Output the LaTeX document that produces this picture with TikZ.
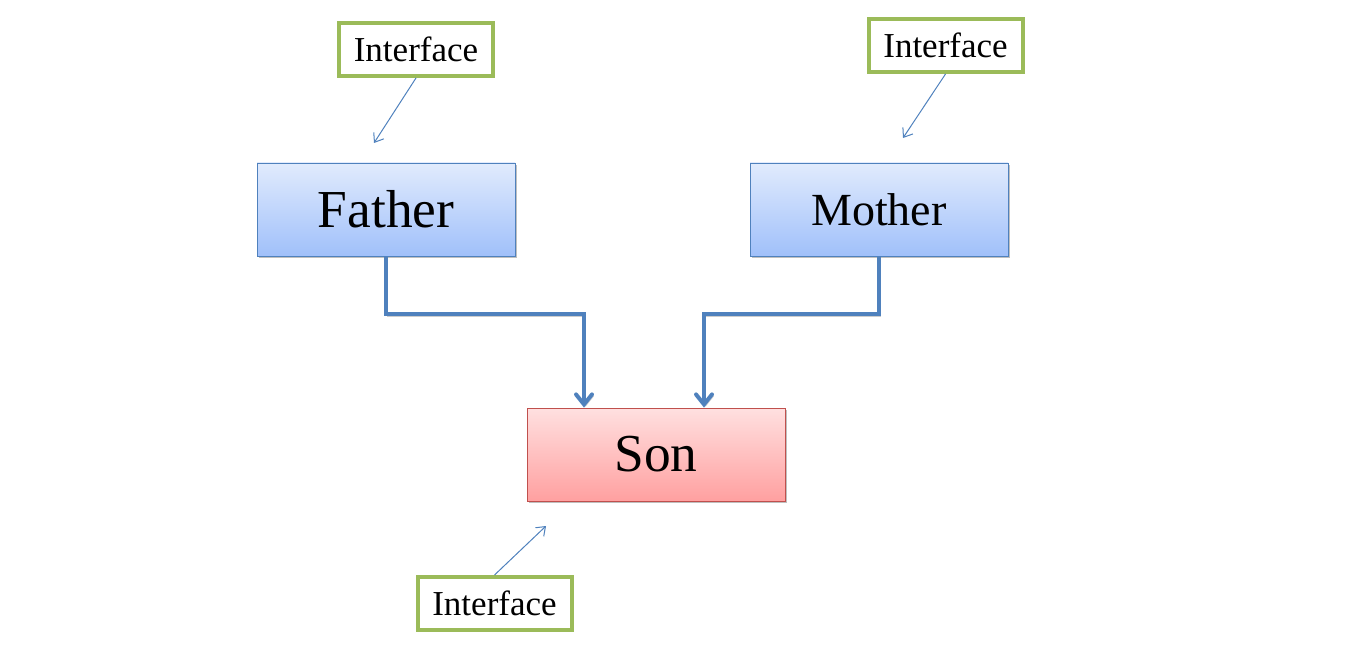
\documentclass[tikz,border=0pt]{standalone}
\usepackage{fontspec}
\setmainfont{Liberation Serif}
\usetikzlibrary{arrows.meta,shadows}

\definecolor{lineblue}{RGB}{79,129,189}
\definecolor{topblue}{RGB}{225,235,253}
\definecolor{botblue}{RGB}{160,192,250}
\definecolor{topred}{RGB}{255,224,224}
\definecolor{botred}{RGB}{255,160,160}
\definecolor{edgered}{RGB}{192,80,77}
\definecolor{ifgreen}{RGB}{155,187,89}

\begin{document}
\begin{tikzpicture}[
  x = 0.5pt, y = -0.5pt,
  base/.style = {
    rectangle,
    draw=#1,
    minimum width=129pt,
    minimum height=46.5pt,
    inner sep=0pt,
    align=center,
    drop shadow={shadow xshift=1pt, shadow yshift=-1.2pt, opacity=0.25, fill=black}
  },
  class/.style = {base=lineblue, top color=topblue, bottom color=botblue},
  child/.style = {base=edgered, top color=topred, bottom color=botred},
  iface/.style = {
    rectangle,
    draw=ifgreen,
    line width=2pt,
    fill=white,
    minimum width=77pt,
    minimum height=26.5pt,
    inner sep=0pt,
    font=\fontsize{17.5}{20}\selectfont
  },
  arr/.style = {draw=lineblue, line width=0.5pt, -{Straight Barb[length=4pt,width=6pt]}},
  conn/.style = {draw=lineblue, line width=2pt,
    -{Straight Barb[length=5pt,width=8pt,line cap=round]},
    drop shadow={shadow xshift=0.8pt, shadow yshift=-0.8pt, opacity=0.2, fill=none, draw=black}},
  ]
  \useasboundingbox (0,0) rectangle (1358,646);

  \node[class, font=\fontsize{26.7}{30}\selectfont] (father) at (386,209.5) {Father};
  \node[class, font=\fontsize{23}{28}\selectfont] (mother) at (879,209.5) {Mother};
  \node[child, font=\fontsize{26.7}{30}\selectfont] (son) at (656,454.5) {Son};

  \node[iface] (ifather) at (416,49.5) {Interface};
  \node[iface] (imother) at (945.5,45.5) {Interface};
  \node[iface] (ison) at (494.5,603.5) {Interface};

  \coordinate (pfather) at (374,143);
  \coordinate (pmother) at (903,138);
  \coordinate (pson) at (546,526);

  \draw[arr] (ifather.south) -- (pfather);
  \draw[arr] (imother.south) -- (pmother);
  \draw[arr] (ison.north) -- (pson);

  \draw[conn] (father.south) -- ++(0,58) -| ([xshift=-36pt]son.north);
  \draw[conn] (mother.south) -- ++(0,58) -| ([xshift=24pt]son.north);
\end{tikzpicture}
\end{document}
